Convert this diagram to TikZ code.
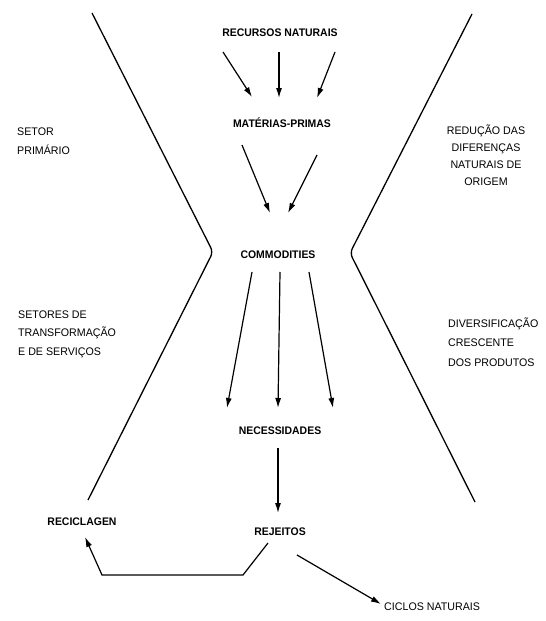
\documentclass[tikz,border=0pt]{standalone}
\usepackage{fontspec}
\setmainfont{Liberation Sans}
\newfontfamily\ctrfont[FakeStretch=0.95]{Liberation Sans}
\newfontfamily\sidefont[FakeStretch=0.97]{Liberation Sans}
\usetikzlibrary{arrows.meta,calc}
\begin{document}
\begin{tikzpicture}[x=1pt,y=-1pt,
  stage/.style={inner sep=0pt,font={\ctrfont\bfseries\fontsize{11}{13}\selectfont}},
  sidelabel/.style={inner sep=0pt,font={\sidefont\fontsize{11}{18.5}\selectfont}},
  flow/.style={line width=1.2pt,-{Latex[length=10pt,width=6pt]}},
  wall/.style={line width=1.3pt,rounded corners=5pt,line join=round}]
\useasboundingbox (0,0) rectangle (546,621);
\fill[white] (0,0) rectangle (546,621);

% the hourglass walls
\draw[wall] (92,13) -- (213,252) -- (88,500);
\draw[wall] (472,14) -- (350,253) -- (475,502);

% stages of the flow
\node[stage] (rec)  at (280,33)  {RECURSOS NATURAIS};
\node[stage] (mat)  at (282,123) {MATÉRIAS-PRIMAS};
\node[stage] (com)  at (278,255) {COMMODITIES};
\node[stage] (nec)  at (280,431) {NECESSIDADES};
\node[stage] (rej)  at (280,532) {REJEITOS};
\node[stage] (recl) at (82,522)  {RECICLAGEN};
\node[sidelabel,anchor=west] (cic) at (384,607) {CICLOS NATURAIS};

% side annotations
\node[sidelabel,align=left,anchor=west] (prim) at (17,141) {SETOR\\PRIMÁRIO};
\node[sidelabel,align=left,anchor=west] (trans) at (18,334) {SETORES DE\\TRANSFORMAÇÃO\\E DE SERVIÇOS};
\node[sidelabel,align=center,font={\sidefont\fontsize{11}{17}\selectfont}] (red) at (486,155) {REDUÇÃO DAS\\DIFERENÇAS\\NATURAIS DE\\ORIGEM};
\node[sidelabel,align=left,anchor=west,font={\sidefont\fontsize{11}{19.5}\selectfont}] (div) at (448,342) {DIVERSIFICAÇÃO\\CRESCENTE\\DOS PRODUTOS};

% recursos naturais -> materias-primas
\draw[flow] ($(rec)+(-57,19)$) -- ($(mat)+(-30,-26)$);
\draw[flow] ($(rec)+(-1,19)$)  -- ($(mat)+(-3,-25)$);
\draw[flow] ($(rec)+(55,19)$)  -- ($(mat)+(35,-25)$);

% materias-primas -> commodities
\draw[flow] ($(mat)+(-40,22)$) -- ($(com)+(-8,-42)$);
\draw[flow] ($(mat)+(35,32)$)  -- ($(com)+(10,-42)$);

% commodities -> necessidades
\draw[flow] ($(com)+(-26,17)$) -- ($(nec)+(-53,-23)$);
\draw[flow] ($(com)+(2,17)$)   -- ($(nec)+(-2,-23)$);
\draw[flow] ($(com)+(31,17)$)  -- ($(nec)+(53,-23)$);

% necessidades -> rejeitos
\draw[flow] ($(nec)+(-2,17)$) -- ($(rej)+(-2,-19)$);

% rejeitos -> reciclagem and natural cycles
\draw[flow] ($(rej)+(-12,11)$) -- (243,575) -- (102,575) -- ($(recl)+(3,15)$);
\draw[flow] ($(rej)+(17,23)$) -- ($(cic.west)+(-3,-3)$);
\end{tikzpicture}
\end{document}
